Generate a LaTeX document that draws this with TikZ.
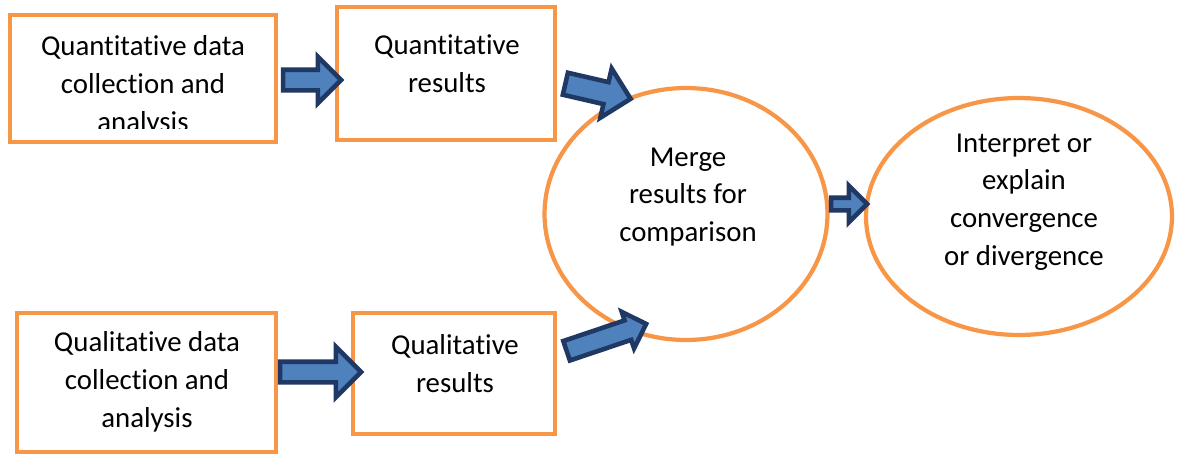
\documentclass[tikz,border=0pt]{standalone}
\usepackage{fontspec}
\setmainfont[Ligatures=NoCommon]{Carlito}
\usetikzlibrary{shapes.geometric,shapes.arrows}
\definecolor{boxorange}{HTML}{F79646}
\definecolor{arrowblue}{HTML}{4F81BD}
\definecolor{arrowline}{HTML}{203864}
\tikzset{
  box/.style={draw=boxorange,line width=2.8pt,rectangle,inner sep=0pt},
  oval/.style={draw=boxorange,line width=2.4pt,ellipse,inner sep=0pt},
  txt/.style={align=center,inner sep=0pt,font=\fontsize{16.4}{21.5}\selectfont},
  bigarrow/.style={single arrow,draw=arrowline,fill=arrowblue,line width=2.6pt,
    inner xsep=0pt,minimum width=0pt,single arrow tip angle=90}
}
\begin{document}
\begin{tikzpicture}[x=0.02cm,y=-0.02cm]
    \useasboundingbox (0,0) rectangle (1177,454);
    \node[box,minimum width=53.2mm,minimum height=25.4mm](qnbox) at (143,78.5){};
    \node[box,minimum width=43.6mm,minimum height=26.6mm](qnres) at (446,73.5){};
    \node[box,minimum width=51.8mm,minimum height=27.8mm](qlbox) at (146.5,382.5){};
    \node[box,minimum width=40.4mm,minimum height=24.2mm](qlres) at (454,373.5){};
    \node[oval,minimum width=56.6mm,minimum height=50.4mm](merge) at (686,214){};
    \node[oval,minimum width=61.2mm,minimum height=47.4mm](interp) at (1019,216.5){};
    \begin{scope}
    \clip (10,15) rectangle (276,128);
    \node[txt](qnboxtxt) at (143,86){Quantitative data\\collection and\\analysis};
    \end{scope}
    \node[txt](qnrestxt) at (447,64){Quantitative\\results};
    \node[txt](qlboxtxt) at (147,382){Qualitative data\\collection and\\analysis};
    \node[txt](qlrestxt) at (455,363.5){Qualitative\\results};
    \node[txt](mergetxt) at (688,197){Merge\\results for\\comparison};
    \node[txt](interptxt) at (1024,202){Interpret or\\explain\\convergence\\or divergence};
    \node[bigarrow,minimum height=11.6mm,inner ysep=1.6mm,single arrow head extend=2.6mm](qnarrow) at (307,80){};
    \node[bigarrow,minimum height=16.2mm,inner ysep=1.6mm,single arrow head extend=3mm](qlarrow) at (315.5,372){};
    \node[bigarrow,minimum height=13.4mm,inner ysep=1.8mm,single arrow head extend=2.8mm,rotate=-13](qnmerge) at (592.5,90){};
    \node[bigarrow,minimum height=16.8mm,inner ysep=1.6mm,single arrow head extend=1.8mm,rotate=18.6](qlmerge) at (601.5,339){};
    \node[bigarrow,minimum height=7.2mm,inner ysep=0.8mm,single arrow head extend=2.4mm](mergearrow) at (846,204){};
\end{tikzpicture}
\end{document}
